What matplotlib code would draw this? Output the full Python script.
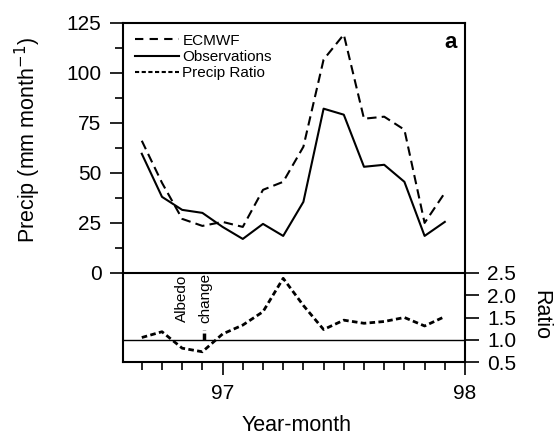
import numpy as np
import matplotlib
matplotlib.use('Agg')
import matplotlib.pyplot as plt
from matplotlib.lines import Line2D

plt.rcParams['font.family'] = ['Liberation Sans', 'DejaVu Sans']

# months counted from Jan 1997 (Sep 96 ... Dec 97)
meses = [-4, -3, -2, -1, 0, 1, 2, 3, 4, 5, 6, 7, 8, 9, 10, 11]
ecmwf = [66, 45, 27, 23.5, 25.5, 23, 41.5, 45.5, 63, 106.5, 119, 77, 78, 71.5, 25, 40]
obs = [59.5, 38, 31.5, 30, 23, 17, 24.5, 18.5, 35.5, 82, 79, 53, 54, 45.5, 18.5, 25.5]
ratio = [1.05, 1.18, 0.81, 0.73, 1.13, 1.33, 1.63, 2.38, 1.77, 1.23, 1.44, 1.37, 1.41, 1.5, 1.31, 1.52]

anios = [0, 12]
anios_lab = ['97', '98']
albedo_mes = -0.9

fig = plt.figure(figsize=(5.54, 4.38), dpi=100)
ax1 = fig.add_axes([123/554, 1 - 273/438, 342/554, 250.5/438])
ax2 = fig.add_axes([123/554, 1 - 362/438, 342/554, 89/438])
ax2.patch.set_visible(False)

# precipitation panel
ax1.plot(meses, ecmwf, color='k', lw=1.5, ls=(0, (4.5, 2.5)))
ax1.plot(meses, obs, color='k', lw=1.5)
ax1.set_xlim(-4.93, 12)
ax1.set_ylim(0, 125)
ax1.set_yticks(np.arange(0, 126, 25))
ax1.set_yticks(np.arange(12.5, 125, 25), minor=True)
ax1.tick_params(axis='y', which='major', direction='out', length=9.5, width=1.2, labelsize=15, pad=6)
ax1.tick_params(axis='y', which='minor', direction='out', length=5.5, width=1.2)
ax1.tick_params(axis='x', which='both', bottom=False, labelbottom=False)
for s in ax1.spines.values():
    s.set_linewidth(1.5)
ax1.set_ylabel('Precip (mm month$^{-1}$)', fontsize=15.5)
ax1.yaxis.set_label_coords(-0.233, 0.531)
ax1.text(0.975, 0.92, 'a', transform=ax1.transAxes, fontweight='bold', fontsize=16, ha='right', va='center')

h1 = Line2D([], [], color='k', lw=1.5, ls=(0, (4, 3)))
h2 = Line2D([], [], color='k', lw=1.5)
h3 = Line2D([], [], color='k', lw=1.5, ls=(0, (2, 1.2)))
ax1.legend([h1, h2, h3], ['ECMWF', 'Observations', 'Precip Ratio'], loc='upper left',
           bbox_to_anchor=(0.035, 0.955), frameon=False, fontsize=11, handlelength=2.9,
           handletextpad=0.2, labelspacing=0.15, borderpad=0, borderaxespad=0)

# ratio panel
ax2.plot(meses, ratio, color='k', lw=2, ls=(0, (2, 1.2)))
ax2.axhline(1.0, color='k', lw=1.0)
ax2.plot([albedo_mes, albedo_mes], [1.0, 1.22], color='k', lw=2.5, ls=(0, (2, 0.8)))
ax2.text(-2.02, 1.41, 'Albedo', rotation=90, ha='center', va='bottom', fontsize=11)
ax2.text(-0.87, 1.38, 'change', rotation=90, ha='center', va='bottom', fontsize=11)
ax2.set_xlim(-4.93, 12)
ax2.set_ylim(0.5, 2.5)
ax2.set_yticks([0.5, 1.0, 1.5, 2.0, 2.5])
ax2.yaxis.tick_right()
ax2.tick_params(axis='y', direction='out', length=10, width=1.2, labelsize=15, pad=6)
ax2.set_xticks(anios)
ax2.set_xticklabels(anios_lab)
ax2.set_xticks(meses, minor=True)
ax2.tick_params(axis='x', which='major', direction='out', length=9.5, width=1.2, labelsize=15, pad=6)
ax2.tick_params(axis='x', which='minor', direction='out', length=5.5, width=1.2)
ax2.spines['top'].set_visible(False)
for s in ['left', 'right', 'bottom']:
    ax2.spines[s].set_linewidth(1.5)
ax2.set_xlabel('Year-month', fontsize=15.5)
ax2.xaxis.set_label_coords(0.508, -0.6)

fig.text(541/554, 1 - 315/438, 'Ratio', rotation=-90, ha='center', va='center', fontsize=15.5)

fig.savefig('out.png', dpi=100)
